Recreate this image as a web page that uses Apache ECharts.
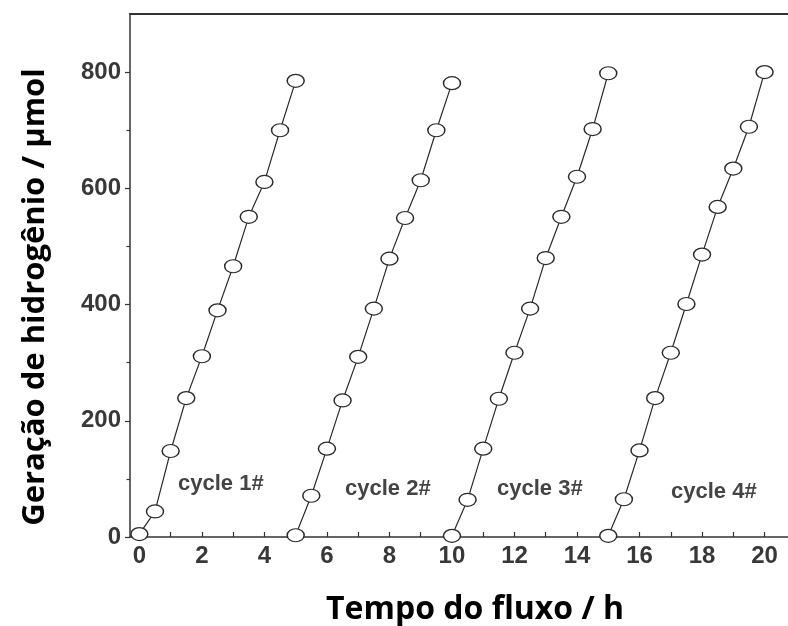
<!DOCTYPE html>
<html>
<head>
<meta charset="utf-8">
<script src="https://cdn.jsdelivr.net/npm/echarts@6/dist/echarts.min.js"></script>
<style>html,body{margin:0;padding:0;background:#fff}#chart{width:788px;height:626px}</style>
</head>
<body>
<div id="chart"></div>
<script>
// ---- data ----
const hoursCycle1 = [0, 0.5, 1, 1.5, 2, 2.5, 3, 3.5, 4, 4.5, 5];
const h2Cycle1    = [5, 44, 148, 239, 311, 390, 466, 551, 611, 700, 785];
const hoursCycle2 = [5, 5.5, 6, 6.5, 7, 7.5, 8, 8.5, 9, 9.5, 10];
const h2Cycle2    = [3, 71, 152, 235, 310, 393, 479, 549, 614, 700, 781];
const hoursCycle3 = [10, 10.5, 11, 11.5, 12, 12.5, 13, 13.5, 14, 14.5, 15];
const h2Cycle3    = [2, 64, 152, 238, 317, 393, 480, 551, 620, 702, 798];
const hoursCycle4 = [15, 15.5, 16, 16.5, 17, 17.5, 18, 18.5, 19, 19.5, 20];
const h2Cycle4    = [2, 65, 149, 239, 317, 401, 486, 568, 634, 706, 800];
const cycleLabels = ['cycle 1#', 'cycle 2#', 'cycle 3#', 'cycle 4#'];
const xTickValues = [0, 2, 4, 6, 8, 10, 12, 14, 16, 18, 20];
const xMinorTickValues = [1, 3, 5, 7, 9, 11, 13, 15, 17, 19];
const yTickValues = [0, 200, 400, 600, 800];
const yMinorTickValues = [100, 300, 500, 700];
const xTitle = 'Tempo do fluxo / h';
const yTitle = 'Geração de hidrogênio / μmol';

const cycles = [
  [hoursCycle1, h2Cycle1],
  [hoursCycle2, h2Cycle2],
  [hoursCycle3, h2Cycle3],
  [hoursCycle4, h2Cycle4]
];

const ink = '#2a2a2a';
const tickFont = { fontFamily: 'Liberation Sans', fontWeight: 'bold', fontSize: 24, color: '#383838' };
const ellipse = 'path://M0,10A10,10,0,1,1,20,10A10,10,0,1,1,0,10Z';

const chart = echarts.init(document.getElementById('chart'), null, { renderer: 'canvas' });

const series = cycles.map((c, i) => ({
  type: 'line',
  name: cycleLabels[i],
  data: c[0].map((x, k) => [x, c[1][k]]),
  xAxisIndex: 0,
  yAxisIndex: 0,
  symbol: ellipse,
  symbolSize: [17, 13],
  showAllSymbol: true,
  lineStyle: { color: ink, width: 1.2 },
  itemStyle: { color: '#fff', borderColor: ink, borderWidth: 1.3 },
  z: 3,
  animation: false
}));

const cyclePos = [[178, 484], [345, 488.5], [497, 489], [671, 491.5]];

chart.setOption({
  backgroundColor: '#fff',
  animation: false,
  grid: { left: 130, right: 0, top: 14, bottom: 89, containLabel: false },
  xAxis: [
    {
      type: 'value', min: -0.3, max: 20.75, position: 'bottom',
      axisLine: { show: true, onZero: false, lineStyle: { color: '#333', width: 1.5 } },
      axisTick: { show: true, inside: true, length: 5, customValues: xTickValues.concat(xMinorTickValues), lineStyle: { color: '#333', width: 1.2 } },
      axisLabel: Object.assign({ margin: 7, customValues: xTickValues, formatter: v => String(v) }, tickFont),
      splitLine: { show: false }
    },
    {
      type: 'value', min: -0.3, max: 20.75, position: 'top',
      axisLine: { show: true, onZero: false, lineStyle: { color: '#333', width: 2 } },
      axisTick: { show: false }, axisLabel: { show: false }, splitLine: { show: false }
    }
  ],
  yAxis: [
    {
      type: 'value', min: 0, max: 900, position: 'left',
      axisLine: { show: true, onZero: false, lineStyle: { color: '#333', width: 1.5 } },
      axisTick: { show: true, inside: false, length: 5, customValues: yTickValues, lineStyle: { color: '#333', width: 1.2 } },
      axisLabel: Object.assign({ margin: 9, customValues: yTickValues, formatter: v => String(v) }, tickFont),
      splitLine: { show: false }
    },
    {
      type: 'value', min: 0, max: 900, position: 'left',
      axisLine: { show: false, onZero: false },
      axisTick: { show: true, inside: false, length: 3.5, customValues: yMinorTickValues, lineStyle: { color: '#333', width: 1.2 } },
      axisLabel: { show: false }, splitLine: { show: false }
    }
  ],
  series: series,
  graphic: [
    {
      type: 'text', x: 475, y: 610,
      style: { text: xTitle, fontFamily: 'Open Sans', fontWeight: 'bold', fontSize: 32, fill: '#000', align: 'center', verticalAlign: 'middle' }
    },
    {
      type: 'text', x: 35, y: 297, rotation: Math.PI / 2,
      style: { text: yTitle, fontFamily: 'Open Sans', fontWeight: 'bold', fontSize: 31, fill: '#000', align: 'center', verticalAlign: 'middle' }
    }
  ].concat(cycleLabels.map((t, i) => ({
    type: 'text', x: cyclePos[i][0], y: cyclePos[i][1],
    style: { text: t, fontFamily: 'Liberation Sans', fontWeight: 'bold', fontSize: 22, fill: '#444', align: 'left', verticalAlign: 'middle' }
  })))
});
</script>
</body>
</html>
